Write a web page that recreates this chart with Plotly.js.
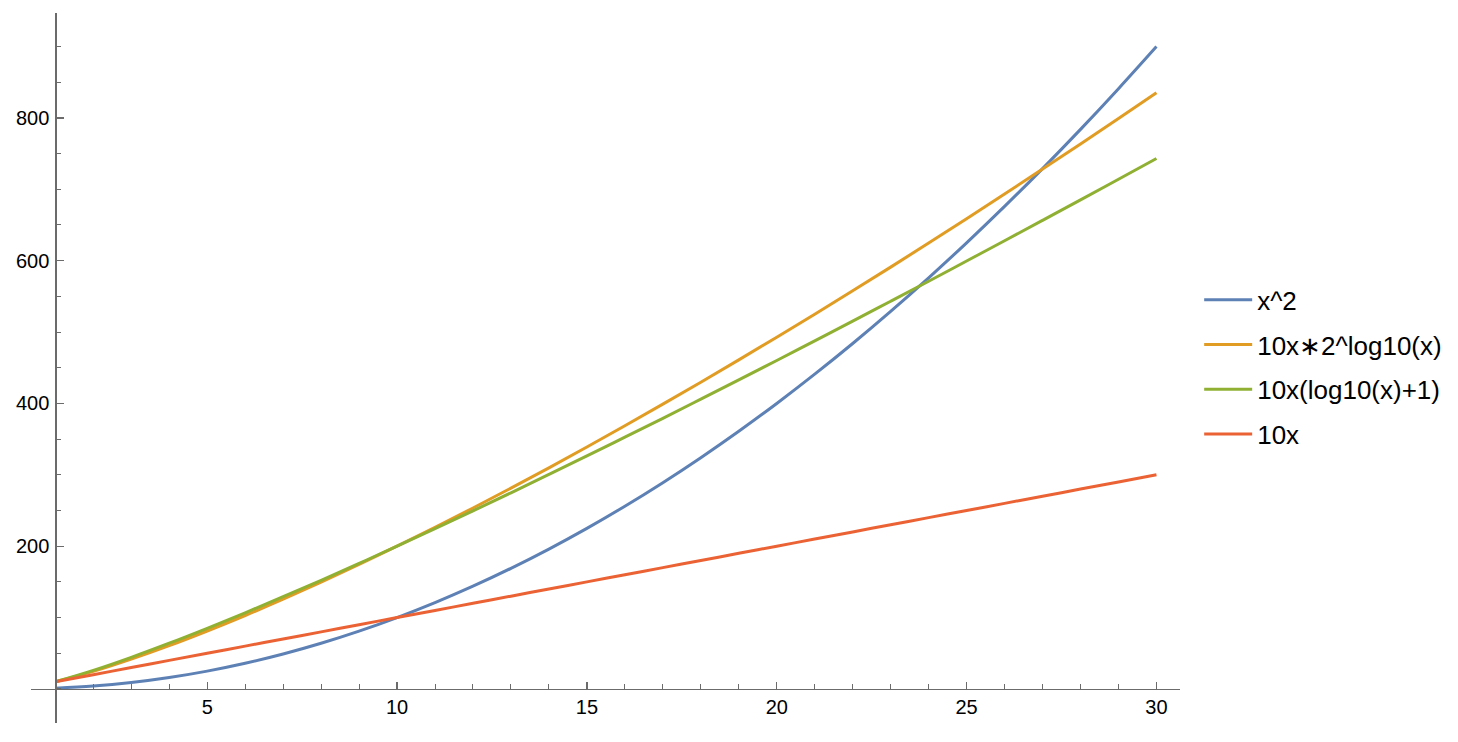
<!DOCTYPE html>
<html>
<head>
<meta charset="utf-8">
<script src="https://cdn.plot.ly/plotly-3.0.1.min.js"></script>
<style>html,body{margin:0;padding:0;background:#fff;}#chart{width:1458px;height:742px;}</style>
</head>
<body>
<div id="chart"></div>
<script>
// x values (1..30)
const xs = [1,2,3,4,5,6,7,8,9,10,11,12,13,14,15,16,17,18,19,20,21,22,23,24,25,26,27,28,29,30];

// series
const seriesNames = ["x^2", "10x\u22172^log10(x)", "10x(log10(x)+1)", "10x"];
const ySquare = [1,4,9,16,25,36,49,64,81,100,121,144,169,196,225,256,289,324,361,400,441,484,529,576,625,676,729,784,841,900];
const yPow = [10,24.6,41.8,60.7,81.2,102.9,125.7,149.6,174.4,200,226.4,253.5,281.4,309.8,339.0,368.7,399.0,429.7,461.0,492.8,525.0,557.8,591.0,624.7,658.8,693.4,728.3,763.5,799.2,835.2];
const yLog = [10,26.0,44.3,64.1,85.0,106.7,129.2,152.2,175.9,200,224.6,249.5,274.8,300.5,326.4,352.7,379.2,406.0,433.0,460.2,487.7,515.3,543.2,571.2,599.5,627.9,656.5,685.2,714.1,743.1];
const yLin = [10,20,30,40,50,60,70,80,90,100,110,120,130,140,150,160,170,180,190,200,210,220,230,240,250,260,270,280,290,300];

const xTickVals = [5,10,15,20,25,30];
const yTickVals = [200,400,600,800];

const colors = ["#5E81B5", "#E19C24", "#8FB032", "#EB6235"];
const seriesY = [ySquare, yPow, yLog, yLin];

const traces = seriesY.map((ys, i) => ({
  type: "scatter",
  mode: "lines",
  x: xs,
  y: ys,
  name: seriesNames[i],
  legendgroup: "g" + i,
  line: {color: colors[i], width: 3, shape: "spline", smoothing: 1},
  hoverinfo: "skip"
}));

const axisColor = "#6b6b6b";
const layout = {
  width: 1458,
  height: 742,
  margin: {l: 31, r: 277, t: 13, b: 19},
  paper_bgcolor: "#ffffff",
  plot_bgcolor: "#ffffff",
  font: {family: "Liberation Sans, Arial, sans-serif", color: "#000000", size: 20},
  showlegend: true,
  legend: {
    x: 1.0158, xanchor: "left", xref: "paper",
    y: 0.501, yanchor: "middle",
    font: {size: 26, color: "#000000"},
    traceorder: "grouped",
    tracegroupgap: 8,
    itemwidth: 48,
    bgcolor: "rgba(0,0,0,0)"
  },
  xaxis: {
    range: [0.36, 30.62],
    anchor: "free",
    position: 0.048,
    showgrid: false,
    zeroline: false,
    showline: true,
    linecolor: axisColor,
    linewidth: 1.3,
    tickmode: "array",
    tickvals: xTickVals,
    ticks: "inside",
    ticklen: 7,
    tickwidth: 1.3,
    tickcolor: axisColor,
    tickfont: {size: 20, color: "#000000"},
    minor: {tickmode: "linear", tick0: 0, dtick: 1, ticks: "inside", ticklen: 4.5, tickwidth: 1, tickcolor: axisColor}
  },
  yaxis: {
    range: [-47.7, 947],
    anchor: "free",
    position: 0.02115,
    showgrid: false,
    zeroline: false,
    showline: true,
    linecolor: axisColor,
    linewidth: 1.3,
    tickmode: "array",
    tickvals: yTickVals,
    ticks: "inside",
    ticklen: 7,
    tickwidth: 1.3,
    tickcolor: axisColor,
    ticklabelstandoff: 2,
    tickfont: {size: 20, color: "#000000"},
    minor: {tickmode: "linear", tick0: 0, dtick: 50, ticks: "inside", ticklen: 4.5, tickwidth: 1, tickcolor: axisColor}
  }
};

Plotly.newPlot("chart", traces, layout, {displayModeBar: false, staticPlot: true});
</script>
</body>
</html>
